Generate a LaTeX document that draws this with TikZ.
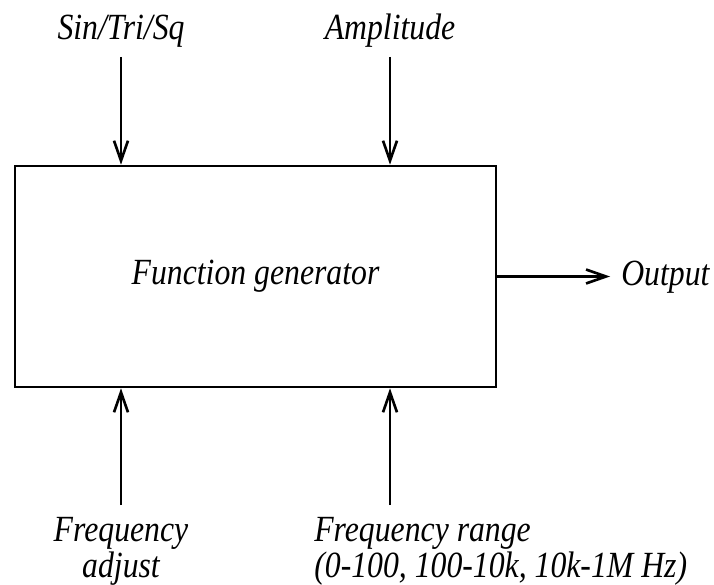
\documentclass[tikz,border=0pt]{standalone}
\usepackage{fontspec}
\setmainfont[FakeStretch=0.86]{Liberation Serif}
\usetikzlibrary{arrows.meta}

\begin{document}
\begin{tikzpicture}[->, >={Straight Barb[length=4mm,width=2.8mm]}, line width=1.5pt,
    every node/.style={font=\fontsize{21}{17.6}\selectfont\itshape, inner sep=0pt}]
    \useasboundingbox (0,0) rectangle (14.28,11.68);

    \node[draw, minimum width=9.62cm, minimum height=4.42cm] (gen) at (5.11,6.15) {Function generator};

    % inputs from above
    \node[anchor=base] (wave) at (2.42,10.88) {Sin/Tri/Sq};
    \node[anchor=base] (amp) at (7.80,10.88) {Amplitude};
    \coordinate (w) at (2.42,10.54);
    \coordinate (a) at (7.80,10.54);
    \draw (w) to (w |- gen.north);
    \draw (a) to (a |- gen.north);

    % inputs from below (base = last line)
    \node[anchor=base, align=center] (fadj) at (2.42,0.14) {Frequency\\adjust};
    \node[anchor=base west, align=left] (frng) at (6.26,0.14) {Frequency range\\(0-100, 100-10k, 10k-1M Hz)};
    \coordinate (f) at (2.42,1.58);
    \coordinate (r) at (7.80,1.58);
    \draw (f) to (f |- gen.south);
    \draw (r) to (r |- gen.south);

    % output
    \node[anchor=base west] (out) at (12.40,5.98) {Output};
    \coordinate (o) at (12.20,6.15);
    \draw (gen.east) to (o);
\end{tikzpicture}
\end{document}
